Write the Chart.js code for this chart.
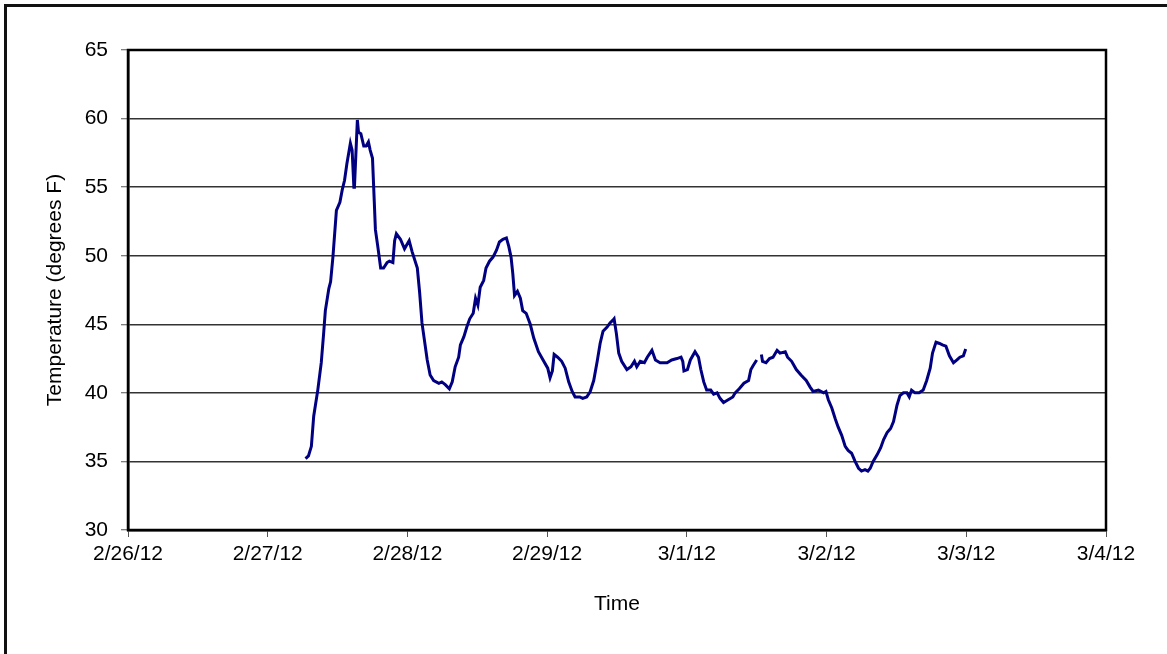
<!DOCTYPE html>
<html>
<head>
<meta charset="utf-8">
<script src="https://cdn.jsdelivr.net/npm/chart.js@4/dist/chart.umd.min.js"></script>
<style>
  html, body { margin: 0; padding: 0; background: #fff; overflow: hidden; }
  #wrap { position: relative; width: 1167px; height: 654px; }
  #frame { position: absolute; left: 4px; top: 4px; width: 2000px; height: 2000px;
           border-left: 3px solid #111; border-top: 3px solid #111; pointer-events: none; }
  canvas { position: absolute; left: 0; top: 0; }
</style>
</head>
<body>
<div id="wrap">
  <canvas id="tempChart" width="1167" height="654"></canvas>
  <div id="frame"></div>
</div>
<script>
// tick labels on the time axis, one per day starting 2/26/12
var dayLabels = ["2/26/12", "2/27/12", "2/28/12", "2/29/12", "3/1/12", "3/2/12", "3/3/12", "3/4/12"];

// hours after 2/26/12 00:00
var hours = [
   30.5, 31.0, 31.5, 31.9, 32.6, 33.2, 33.6, 33.9, 34.5, 34.8,
   35.2, 35.8, 36.4, 36.8, 37.2, 37.6, 38.2, 38.5, 38.8, 38.9,
   39.4, 39.6, 40.0, 40.5, 40.9, 41.3, 41.6, 42.0, 42.3, 42.5,
   42.9, 43.4, 43.9, 44.5, 44.9, 45.5, 45.8, 46.1, 46.8, 47.5,
   48.3, 48.8, 49.7, 50.1, 50.5, 50.9, 51.4, 51.9, 52.5, 53.4,
   53.9, 54.5, 55.2, 55.7, 56.2, 56.8, 57.1, 57.7, 58.2, 58.7,
   59.3, 59.7, 60.1, 60.5, 61.1, 61.5, 62.1, 62.7, 63.3, 63.8,
   64.4, 65.0, 65.4, 65.8, 66.1, 66.4, 66.9, 67.4, 67.8, 68.4,
   69.1, 69.7, 70.5, 71.3, 72.1, 72.5, 72.9, 73.2, 73.8, 74.5,
   75.1, 75.7, 76.3, 76.8, 77.6, 78.1, 78.8, 79.4, 80.0, 80.6,
   81.1, 81.6, 82.3, 82.8, 83.3, 83.5, 83.9, 84.3, 84.8, 85.7,
   86.4, 87.0, 87.4, 88.0, 88.7, 89.2, 90.0, 90.6, 91.4, 92.6,
   93.4, 94.3, 95.0, 95.3, 95.5, 96.1, 96.6, 97.4, 98.0, 98.4,
   98.9, 99.4, 100.1, 100.6, 101.2, 101.7, 102.3, 103.1, 103.9, 104.3,
   105.0, 105.8, 106.6, 107.0, 107.4, 108.0, 108.4, 108.8, 109.0, 109.6,
   110.2, 110.8, 111.5, 112.0, 112.9, 113.3, 114.0, 114.8, 115.6, 116.5,
   117.2, 117.7, 118.6, 119.5, 119.9, 120.3, 120.9, 121.5, 122.0, 122.6,
   123.2, 123.7, 124.3, 124.9, 125.5, 126.0, 126.6, 127.1, 127.5, 128.0,
   128.7, 129.3, 129.8, 130.4, 131.0, 131.5, 132.1, 132.6, 133.2, 133.8,
   134.2, 134.6, 135.2, 135.9, 136.6, 137.2, 137.8, 138.2, 138.8, 139.4,
   139.9, 140.5, 141.1, 141.8, 142.4, 142.9, 143.5, 143.9
];

// temperature, degrees F (null = missing reading)
var temps = [
   35.2, 35.4, 36.1, 38.3, 40.2, 42.2, 44.3, 46.0, 47.6, 48.1,
   49.9, 53.3, 53.9, 54.8, 55.5, 56.7, 58.2, 57.7, 55.0, 55.0,
   59.9, 59.0, 58.9, 58.0, 58.0, 58.3, 57.7, 57.1, 54.0, 51.9,
   50.7, 49.1, 49.1, 49.5, 49.6, 49.5, 51.1, 51.6, 51.2, 50.5,
   51.1, 50.3, 49.1, 47.3, 45.1, 43.9, 42.4, 41.3, 40.9, 40.7,
   40.8, 40.6, 40.3, 40.8, 41.9, 42.6, 43.5, 44.1, 44.8, 45.4,
   45.8, 46.9, 46.4, 47.7, 48.2, 49.1, 49.6, 49.9, 50.4, 51.0,
   51.2, 51.3, 50.7, 49.9, 48.7, 47.1, 47.4, 46.9, 46.0, 45.8,
   45.0, 44.0, 43.0, 42.4, 41.8, 41.1, 41.6, 42.8, 42.6, 42.3,
   41.8, 40.8, 40.1, 39.7, 39.7, 39.6, 39.7, 40.1, 40.9, 42.3,
   43.6, 44.5, 44.8, 45.1, 45.3, 45.4, 44.3, 42.9, 42.3, 41.7,
   41.9, 42.3, 41.9, 42.3, 42.2, 42.6, 43.1, 42.4, 42.2, 42.2,
   42.4, 42.5, 42.6, 42.3, 41.6, 41.7, 42.4, 43.0, 42.6, 41.7,
   40.8, 40.2, 40.2, 39.9, 40.0, 39.6, 39.3, 39.5, 39.7, 40.0,
   40.3, 40.7, 40.9, 41.7, 42.0, 42.4, null, 42.8, 42.3, 42.2,
   42.5, 42.6, 43.1, 42.9, 43.0, 42.6, 42.3, 41.7, 41.3, 40.9,
   40.4, 40.1, 40.2, 40.0, 40.1, 39.5, 38.9, 38.1, 37.5, 36.9,
   36.1, 35.8, 35.6, 35.0, 34.5, 34.3, 34.4, 34.3, 34.5, 35.0,
   35.5, 36.0, 36.6, 37.1, 37.4, 37.9, 39.1, 39.8, 40.0, 40.0,
   39.7, 40.2, 40.0, 40.0, 40.2, 40.9, 41.8, 42.9, 43.7, 43.6,
   43.5, 43.4, 42.7, 42.2, 42.4, 42.6, 42.7, 43.2
];

var points = [];
for (let i = 0; i < hours.length; i++) {
   points.push({ x: hours[i], y: temps[i] });
}

var fontSpec = { family: "'Liberation Sans', Arial, sans-serif", size: 21 };

// frame round the plot area (top and right sides)
var plotFrame = {
   id: "plotFrame",
   afterDraw: function (chart) {
      var a = chart.chartArea;
      var c = chart.ctx;
      c.save();
      c.strokeStyle = "#000";
      c.lineWidth = 2.5;
      c.strokeRect(a.left, a.top, a.right - a.left, a.bottom - a.top);
      c.restore();
   }
};

var ctx = document.getElementById("tempChart").getContext("2d");
var chart = new Chart(ctx, {
   type: "line",
   data: {
      datasets: [
         {
            label: "Temperature",
            data: points,
            borderColor: "#000080",
            borderWidth: 3,
            pointRadius: 0,
            tension: 0,
            spanGaps: false
         }
      ]
   },
   options: {
      responsive: false,
      animation: false,
      layout: { padding: { left: 0, top: 50, right: 61, bottom: 0 } },
      plugins: { legend: { display: false }, tooltip: { enabled: false } },
      scales: {
         x: {
            type: "linear",
            min: 0,
            max: 168,
            afterFit: function (scale) { scale.height = 124; },
            ticks: {
               stepSize: 24,
               autoSkip: false,
               maxRotation: 0,
               padding: 5,
               color: "#000",
               font: fontSpec,
               callback: function (value) { return dayLabels[Math.round(value / 24)]; }
            },
            grid: { drawOnChartArea: false, tickLength: 7, tickColor: "#555", tickWidth: 1 },
            border: { color: "#000", width: 2.5 },
            title: { display: true, text: "Time", color: "#000", font: fontSpec, padding: { top: 0, bottom: 37 } }
         },
         y: {
            min: 30,
            max: 65,
            afterFit: function (scale) { scale.width = 128; },
            ticks: { stepSize: 5, padding: 13, color: "#000", font: fontSpec },
            grid: { color: "#333", lineWidth: 1.5, tickLength: 7, tickColor: "#555", tickWidth: 1 },
            border: { color: "#000", width: 2.5 },
            title: { display: true, text: "Temperature (degrees F)", color: "#000", font: fontSpec, padding: { top: 43, bottom: 0 } }
         }
      }
   },
   plugins: [plotFrame]
});
</script>
</body>
</html>
